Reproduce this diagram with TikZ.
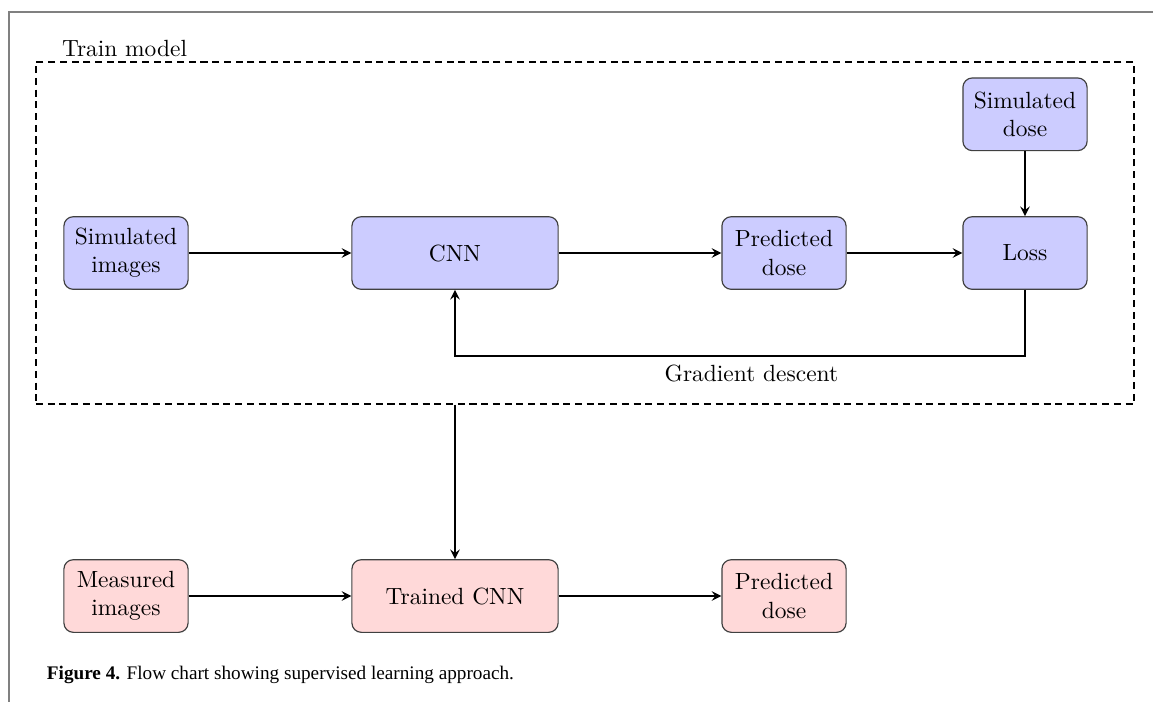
\documentclass[tikz,border=0pt]{standalone}
\usepackage{fontspec}
\newfontfamily\capfont{Liberation Serif}
\usetikzlibrary{positioning}
\tikzset{box/.style={draw=black!75,line width=.5pt,rounded corners=4pt,align=center,minimum width=53pt,minimum height=31pt,inner sep=2pt},
widebox/.style={box,minimum width=88pt},
simfill/.style={fill=blue!20},realfill/.style={fill=red!15}}
\begin{document}
\begin{tikzpicture}[x=0.015cm,y=-0.015cm,>=stealth,thick]
\useasboundingbox(0,0)rectangle(1153,702);
\draw[gray,line width=.5pt](1153,12)--(9,12)--(9,702);
% training loop
\node[draw,semithick,dash pattern=on 3pt off 2pt,minimum width=468.6pt,minimum height=146pt,inner sep=0](frame)at(585,233){};
\node[anchor=base west,inner sep=0]at([xshift=11pt,yshift=2pt]frame.north west){Train model};
\node[box,simfill](simimg)at(126,253){Simulated\\images};
\node[widebox,simfill](cnn)at(455,253){CNN};
\node[box,simfill](pred)at(784,253){Predicted\\dose};
\node[box,simfill](loss)at(1025,253){Loss};
\node[box,simfill,above=27.7pt of loss](simdose){Simulated\\dose};
\draw[->](loss.south)--++(0,66)-|node[pos=.24,below]{Gradient descent}(cnn.south);
% use of trained model
\node[box,realfill](measimg)at(126,596){Measured\\images};
\node[widebox,realfill](tcnn)at(455,596){Trained CNN};
\node[box,realfill](tpred)at(784,596){Predicted\\dose};
\foreach \a/\b in {simimg/cnn,cnn/pred,pred/loss,simdose/loss,measimg/tcnn,tcnn/tpred}{\draw[->](\a)--(\b);}
\draw[->](frame.south-|tcnn.north)--(tcnn);
\node[anchor=west,inner sep=0,font=\capfont\fontsize{8.2}{10}\selectfont](cap)at(46,675){\textbf{Figure 4.} Flow chart showing supervised learning approach.};
\end{tikzpicture}
\end{document}
